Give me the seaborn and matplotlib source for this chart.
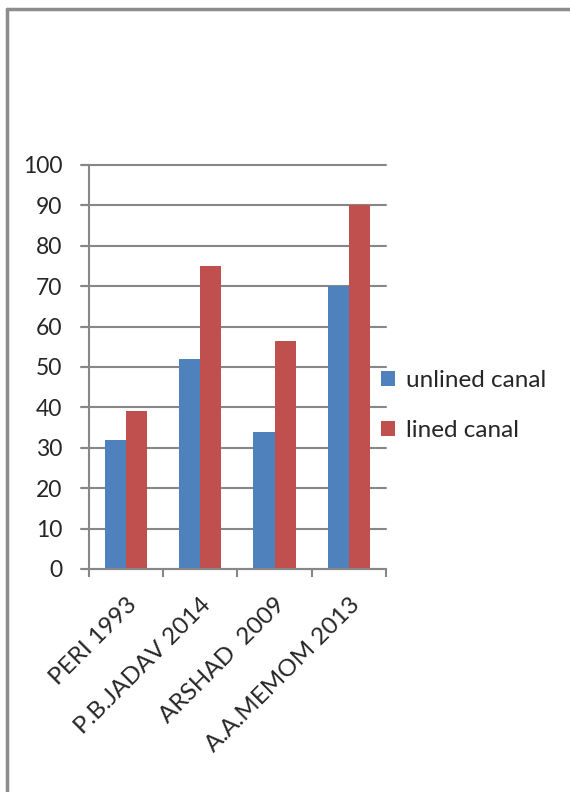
import numpy as np
import pandas as pd
import matplotlib
matplotlib.use("Agg")
import matplotlib.pyplot as plt
import seaborn as sns
from matplotlib.lines import Line2D

studies = ["PERI 1993", "P.B.JADAV 2014", "ARSHAD  2009", "A.A.MEMOM 2013"]
unlined = [32, 52, 34, 70]
lined = [39, 75, 56.5, 90]
series = ["unlined canal", "lined canal"]
colors = ["#4F81BD", "#C0504D"]

df = pd.DataFrame({
    "study": studies * 2,
    "value": unlined + lined,
    "canal": [series[0]] * 4 + [series[1]] * 4,
})

sns.set_style("white")
plt.rcParams["font.family"] = ["Lato", "DejaVu Sans"]

fig = plt.figure(figsize=(5.7, 7.92), dpi=100)
ax = fig.add_axes([0.156, 0.2816, 0.521, 0.5101])

sns.barplot(data=df, x="study", y="value", hue="canal", palette=colors,
            width=0.57, gap=0, saturation=1, linewidth=0, ax=ax, legend=True)

ax.set_xlim(-0.5, 3.5)
ax.set_ylim(0, 100)
ax.set_yticks(range(0, 101, 10))
for s in ["top", "right"]:
    ax.spines[s].set_visible(False)
for s in ["left", "bottom"]:
    ax.spines[s].set_color("#878787")
    ax.spines[s].set_linewidth(1.5)
ax.set_xlabel("")
ax.set_ylabel("")

ax.tick_params(axis="y", length=6, width=1.5, color="#878787", pad=13,
               labelsize=16.5, left=True)
ax.set_xticks(np.arange(-0.5, 3.6, 1), minor=True)
ax.tick_params(axis="x", which="minor", length=6, width=1.5, color="#878787", bottom=True)
ax.tick_params(axis="x", which="major", length=0, pad=18, labelsize=17.5)
plt.setp(ax.get_xticklabels(), rotation=45, ha="right", rotation_mode="anchor")

# gridlines extend left to the tick ends
for v in range(0, 101, 10):
    ax.axhline(v, xmin=-0.028, xmax=1, color="#878787", linewidth=1.5,
               clip_on=False, zorder=0)

ax.legend(loc="center left", bbox_to_anchor=(0.668, 0.488),
          bbox_transform=fig.transFigure, frameon=False, fontsize=17.5,
          handlelength=0.6, handleheight=0.6, handletextpad=0.45,
          labelspacing=1.2, borderpad=0, borderaxespad=0)

# outer frame
fig.add_artist(Line2D([0.013, 0.013], [0, 0.9886], color="#8c8c8c", linewidth=2.5,
                      transform=fig.transFigure))
fig.add_artist(Line2D([0.013, 1.0], [0.9886, 0.9886], color="#8c8c8c", linewidth=2.5,
                      transform=fig.transFigure))

fig.savefig("out.png", dpi=100)
